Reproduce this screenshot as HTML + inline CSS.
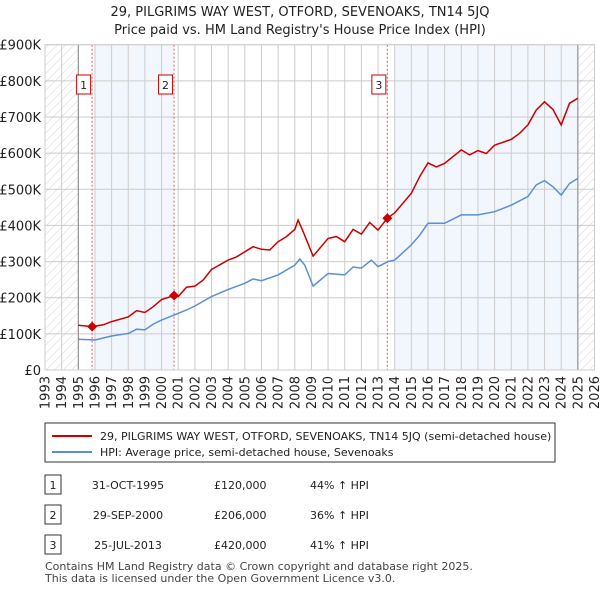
<!DOCTYPE html>
<html><head><meta charset="utf-8"><style>
body{margin:0;background:#fff;font-family:"Liberation Sans","DejaVu Sans",sans-serif;}
svg{display:block}
</style></head><body>
<svg width="600" height="590" viewBox="0 0 600 590" xmlns="http://www.w3.org/2000/svg" font-family="DejaVu Sans, Liberation Sans, sans-serif">
<defs>
<pattern id="hatch" width="6" height="6" patternUnits="userSpaceOnUse" patternTransform="rotate(45)">
<line x1="0" y1="0" x2="0" y2="6" stroke="#d4d4d4" stroke-width="1"/></pattern>
</defs>
<text x="300" y="16" text-anchor="middle" font-size="13" fill="#222">29, PILGRIMS WAY WEST, OTFORD, SEVENOAKS, TN14 5JQ</text>
<text x="300" y="34" text-anchor="middle" font-size="13" fill="#222">Price paid vs. HM Land Registry's House Price Index (HPI)</text>
<g id="plot"></g>
<g>
<rect x="45" y="423" width="510" height="39" fill="#fff" stroke="#333" stroke-width="1"/>
<line x1="52" y1="436" x2="92" y2="436" stroke="#cc0000" stroke-width="2"/>
<text x="100" y="440" font-size="11" fill="#222">29, PILGRIMS WAY WEST, OTFORD, SEVENOAKS, TN14 5JQ (semi-detached house)</text>
<line x1="52" y1="452" x2="92" y2="452" stroke="#5b8fd4" stroke-width="2"/>
<text x="100" y="456" font-size="11" fill="#222">HPI: Average price, semi-detached house, Sevenoaks</text>
</g>
<g id="table" font-size="11" fill="#222"></g>
<text x="45" y="570" font-size="11" fill="#444">Contains HM Land Registry data © Crown copyright and database right 2025.</text>
<text x="45" y="582" font-size="11" fill="#444">This data is licensed under the Open Government Licence v3.0.</text>
</svg>
<script>
const hpiYears=[1995,1996,1997,1998,1998.5,1999,1999.5,2000,2000.75,2001.5,2002,2003,2004,2005,2005.5,2006,2007,2008,2008.3,2008.6,2009.1,2010,2011,2011.5,2012,2012.6,2013,2013.6,2014,2015,2015.5,2016,2017,2018,2019,2020,2021,2022,2022.5,2023,2023.5,2024,2024.5,2025];
const hpiValues=[85,83,94,101,113,111,127,138,152,166,177,203,223,240,252,247,263,290,307,290,232,267,263,285,282,304,286,300,304,346,373,406,406,429,429,438,456,480,512,524,507,484,516,530];
const priceYears=[1995,1995.83,1996.5,1997,1998,1998.5,1999,1999.5,2000,2000.75,2001,2001.5,2002,2002.5,2003,2004,2004.5,2005,2005.5,2006,2006.5,2007,2007.5,2008,2008.2,2008.5,2009.1,2010,2010.5,2011,2011.5,2012,2012.5,2013,2013.56,2014,2015,2015.5,2016,2016.5,2017,2018,2018.5,2019,2019.5,2020,2021,2021.5,2022,2022.5,2023,2023.5,2024,2024.5,2025];
const priceValues=[124,120,125,134,147,164,159,175,195,206,203,229,232,249,278,304,313,327,341,334,332,355,369,389,415,383,315,364,369,355,389,376,408,387,420,435,489,535,573,562,572,609,595,607,599,622,638,655,678,719,742,721,678,738,752];
const saleLabels=["1","2","3"];
const saleYears=[1995.83,2000.75,2013.56];
const saleValues=[120,206,420];
const saleDates=["31-OCT-1995","29-SEP-2000","25-JUL-2013"];
const salePrices=["£120,000","£206,000","£420,000"];
const saleHpi=["44% ↑ HPI","36% ↑ HPI","41% ↑ HPI"];
const yTicks=[0,100,200,300,400,500,600,700,800,900];
const yTickLabels=["£0","£100K","£200K","£300K","£400K","£500K","£600K","£700K","£800K","£900K"];

const NS="http://www.w3.org/2000/svg";
const L=45,R=594.5,T=44.7,B=370;
const X=y=>L+(y-1993)*(R-L)/33;
const Y=v=>B-v*(B-T)/900;
function mk(tag,attrs,parent){const e=document.createElementNS(NS,tag);for(const k in attrs)e.setAttribute(k,attrs[k]);parent.appendChild(e);return e;}
const plot=document.getElementById('plot');
let e=mk('rect',{x:L,y:T,width:X(1995)-L,height:B-T,fill:'url(#hatch)'},plot);


e=mk('rect',{x:X(2025),y:T,width:R-X(2025),height:B-T,fill:'url(#hatch)'},plot);


e=mk('rect',{x:X(1996),y:T,width:X(saleYears[1])-X(1996),height:B-T,fill:'#f2f6fd'},plot);


e=mk('rect',{x:X(2014),y:T,width:X(2025)-X(2014),height:B-T,fill:'#f2f6fd'},plot);


for(let yr=1993;yr<=2026;yr++){
 e=mk('line',{x1:X(yr),x2:X(yr),y1:T,y2:B,stroke:'#ccc','stroke-width':1},plot);
 
 
 const t=mk('text',{x:0,y:0,'font-size':13,fill:'#222','text-anchor':'end',transform:`translate(${X(yr)+4.5},376) rotate(-90)`},plot);
 t.textContent=yr;
 
 
}
yTicks.forEach((v,i)=>{
 e=mk('line',{x1:L,x2:R,y1:Y(v),y2:Y(v),stroke:'#ccc','stroke-width':1},plot);
 
 
 const t=mk('text',{x:41,y:Y(v)+5,'font-size':13,fill:'#222','text-anchor':'end'},plot);
 t.textContent=yTickLabels[i];
 
 
});
e=mk('line',{x1:X(1995),x2:X(1995),y1:T,y2:B,stroke:'#888','stroke-width':1},plot);


e=mk('line',{x1:X(2025),x2:X(2025),y1:T,y2:B,stroke:'#888','stroke-width':1},plot);


saleYears.forEach((yr,i)=>{
 e=mk('line',{x1:X(yr),x2:X(yr),y1:T,y2:B,stroke:'#e06060','stroke-width':1,'stroke-dasharray':'2,2'},plot);
 
 
 const bx=X(yr)-15.5;
 e=mk('rect',{x:bx,y:75,width:14,height:19,fill:'#fff',stroke:'#cc0000','stroke-width':1},plot);
 
 
 const t=mk('text',{x:bx+7,y:89,'font-size':11,fill:'#222','text-anchor':'middle'},plot);
 t.textContent=saleLabels[i];
 
 
});
e=mk('path',{d:hpiYears.map((y,i)=>(i?'L':'M')+X(y).toFixed(1)+','+Y(hpiValues[i]).toFixed(1)).join(''),fill:'none',stroke:'#5b8fd4','stroke-width':1.5},plot);


e=mk('path',{d:priceYears.map((y,i)=>(i?'L':'M')+X(y).toFixed(1)+','+Y(priceValues[i]).toFixed(1)).join(''),fill:'none',stroke:'#cc0000','stroke-width':1.5},plot);


saleYears.forEach((yr,i)=>{
 const cx=X(yr),cy=Y(saleValues[i]);
 e=mk('path',{d:`M${cx},${cy-5}L${cx+5},${cy}L${cx},${cy+5}L${cx-5},${cy}Z`,fill:'#cc0000'},plot);
 
 
});
e=mk('rect',{x:L,y:T,width:R-L,height:B-T,fill:'none',stroke:'#ccc','stroke-width':1},plot);


const tb=document.getElementById('table');
saleLabels.forEach((s,i)=>{
 const ry=485+i*30;
 e=mk('rect',{x:45,y:ry-10,width:16,height:19,fill:'#fff',stroke:'#333','stroke-width':1},tb);
 
 
 let t=mk('text',{x:53,y:ry+4,'text-anchor':'middle'},tb);t.textContent=s;
 
 
 t=mk('text',{x:128,y:ry+4,'text-anchor':'middle'},tb);t.textContent=saleDates[i];
 
 
 t=mk('text',{x:214,y:ry+4},tb);t.textContent=salePrices[i];
 
 
 t=mk('text',{x:310,y:ry+4},tb);t.textContent=saleHpi[i];
 
 
});
</script>
</body></html>
